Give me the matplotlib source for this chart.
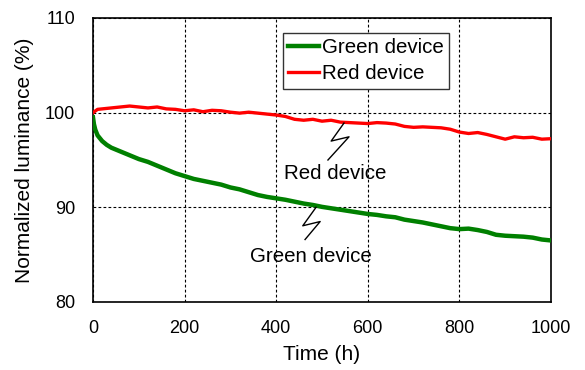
import numpy as np
import matplotlib
matplotlib.use('Agg')
import matplotlib.pyplot as plt

plt.rcParams['font.family'] = ['Liberation Sans', 'DejaVu Sans']

red_time = [0, 10, 20, 40, 60, 80, 100, 120, 140, 160, 180, 200, 220, 240, 260, 280,
            300, 320, 340, 360, 380, 400, 420, 440, 460, 480, 500, 520, 540, 560, 580,
            600, 620, 640, 660, 680, 700, 720, 740, 760, 780, 800, 820, 840, 860, 880,
            900, 920, 940, 960, 980, 1000]
red_lum = [100.0, 100.35, 100.4, 100.5, 100.6, 100.7, 100.6, 100.5, 100.6, 100.4, 100.35,
           100.2, 100.3, 100.1, 100.25, 100.2, 100.05, 99.95, 100.05, 99.95, 99.85,
           99.75, 99.6, 99.3, 99.2, 99.3, 99.1, 99.2, 99.0, 98.95, 98.9,
           98.85, 98.95, 98.9, 98.8, 98.55, 98.45, 98.5, 98.45, 98.4, 98.25,
           97.95, 97.8, 97.9, 97.7, 97.45, 97.2, 97.45, 97.35, 97.4, 97.2, 97.25]

green_time = [0, 2, 5, 10, 20, 30, 40, 50, 60, 80, 100, 120, 140, 160, 180, 200, 220, 240,
              260, 280, 300, 320, 340, 360, 380, 400, 420, 440, 460, 480, 500, 520, 540,
              560, 580, 600, 620, 640, 660, 680, 700, 720, 740, 760, 780, 800, 820, 840,
              860, 880, 900, 920, 940, 960, 980, 1000]
green_lum = [99.5, 98.8, 98.2, 97.6, 97.0, 96.6, 96.3, 96.1, 95.9, 95.5, 95.1, 94.8, 94.4,
             94.0, 93.6, 93.3, 93.0, 92.8, 92.6, 92.4, 92.1, 91.9, 91.6, 91.3, 91.1, 90.95,
             90.8, 90.6, 90.4, 90.25, 90.05, 89.9, 89.75, 89.6, 89.45, 89.3, 89.2, 89.05,
             88.95, 88.7, 88.55, 88.4, 88.2, 88.0, 87.8, 87.7, 87.75, 87.6, 87.4, 87.1,
             87.0, 86.95, 86.9, 86.8, 86.6, 86.5]

xticks = [0, 200, 400, 600, 800, 1000]
yticks = [80, 90, 100, 110]

# zigzag leader lines for the in-plot labels
red_zig_x = [548, 520, 559, 513]
red_zig_y = [98.9, 97.0, 97.45, 95.0]
green_zig_x = [487, 458, 496, 463]
green_zig_y = [90.0, 88.05, 88.5, 86.6]

fig = plt.figure(figsize=(5.85, 3.7), dpi=100)
ax = fig.add_axes([93 / 585, 68 / 370, 458 / 585, 284 / 370])

ax.plot(green_time, green_lum, color='#008000', lw=3.2, label='Green device',
        solid_joinstyle='round', zorder=3)
ax.plot(red_time, red_lum, color='#ff0000', lw=2.4, label='Red device',
        solid_joinstyle='round', zorder=3)

ax.plot(red_zig_x, red_zig_y, color='black', lw=1.0, zorder=4)
ax.plot(green_zig_x, green_zig_y, color='black', lw=1.0, zorder=4)
ax.text(529, 93.6, 'Red device', fontsize=14.8, ha='center', va='center')
ax.text(475, 84.8, 'Green device', fontsize=14.8, ha='center', va='center')

ax.set_xlim(0, 1000)
ax.set_ylim(80, 110)
ax.set_xticks(xticks)
ax.set_yticks(yticks)
ax.tick_params(length=0, labelsize=13, pad=13)
ax.grid(True, color='black', linestyle=(0, (2.5, 2)), lw=0.8)
for s in ax.spines.values():
    s.set_linewidth(1.2)

ax.set_xlabel('Time (h)', fontsize=15, labelpad=6)
ax.set_ylabel('Normalized luminance (%)', fontsize=15, labelpad=8)

leg = ax.legend(loc='upper left', bbox_to_anchor=(0.415, 0.947), borderaxespad=0,
                fontsize=14.8, fancybox=False, framealpha=1, edgecolor='#333333',
                handlelength=1.5, handletextpad=0.15, borderpad=0.25, labelspacing=0.35)
leg.get_frame().set_linewidth(1.0)

fig.savefig('out.png', dpi=100)
